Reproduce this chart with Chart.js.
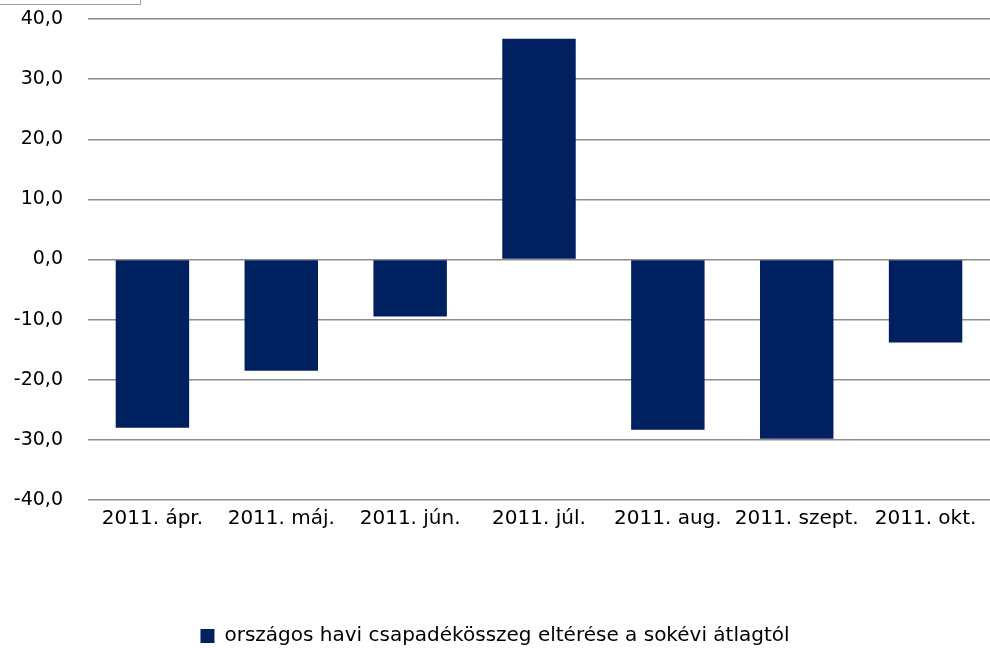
<!DOCTYPE html>
<html>
<head>
<meta charset="utf-8">
<script src="https://cdn.jsdelivr.net/npm/chart.js@4/dist/chart.umd.min.js"></script>
<style>
  html, body { margin: 0; padding: 0; background: #fff; }
  #wrap { position: relative; width: 990px; height: 648px; overflow: hidden; }
  #corner { position: absolute; left: -1px; top: -20px; width: 140px; height: 23px; border: 1px solid #a0a0a0; }
</style>
</head>
<body>
<div id="wrap">
  <canvas id="chart" width="990" height="648"></canvas>
  <div id="corner"></div>
</div>
<script>
const months = ['2011. ápr.', '2011. máj.', '2011. jún.', '2011. júl.', '2011. aug.', '2011. szept.', '2011. okt.'];
const deviation = [-28.0, -18.5, -9.5, 36.7, -28.3, -29.8, -13.8];
const seriesName = 'országos havi csapadékösszeg eltérése a sokévi átlagtól';
const yMin = -40, yMax = 40, yStep = 10;

const fontFamily = '"DejaVu Sans", sans-serif';

// legenda kicsit lejjebb, mint ahova a layout tenné
const legendShift = {
    id: 'legendShift',
    afterLayout(chart) {
        if (chart.legend) {
            chart.legend.top += 8;
            chart.legend.bottom += 8;
        }
    }
};

const ctx = document.getElementById('chart').getContext('2d');
const myChart = new Chart(ctx, {
    type: 'bar',
    data: {
        labels: months,
        datasets: [{
            label: seriesName,
            data: deviation,
            backgroundColor: '#002060',
            borderColor: '#002060',
            borderWidth: 0,
            categoryPercentage: 1.0,
            barPercentage: 0.57
        }]
    },
    options: {
        responsive: false,
        animation: false,
        layout: {
            padding: { top: 19, right: 0, left: 0, bottom: 0 }
        },
        scales: {
            y: {
                min: yMin,
                max: yMax,
                afterFit: (axis) => {
                    axis.width = 88;
                    axis.paddingTop = 0;
                    axis.paddingBottom = 0;
                },
                grid: {
                    color: '#8c8c8c',
                    lineWidth: 1.5,
                    drawTicks: false
                },
                border: { display: false },
                ticks: {
                    stepSize: yStep,
                    padding: 25,
                    color: '#000',
                    font: { family: fontFamily, size: 19 },
                    callback: (v) => v.toFixed(1).replace('.', ',')
                }
            },
            x: {
                afterFit: (axis) => { axis.height = 118; },
                grid: { display: false, drawTicks: false },
                border: { display: false },
                ticks: {
                    padding: 7,
                    color: '#000',
                    maxRotation: 0,
                    autoSkip: false,
                    font: { family: fontFamily, size: 20 }
                }
            }
        },
        plugins: {
            legend: {
                position: 'bottom',
                labels: {
                    boxWidth: 14,
                    boxHeight: 14,
                    padding: 0,
                    color: '#000',
                    font: { family: fontFamily, size: 20 }
                }
            },
            tooltip: { enabled: false }
        }
    },
    plugins: [legendShift]
});
</script>
</body>
</html>
